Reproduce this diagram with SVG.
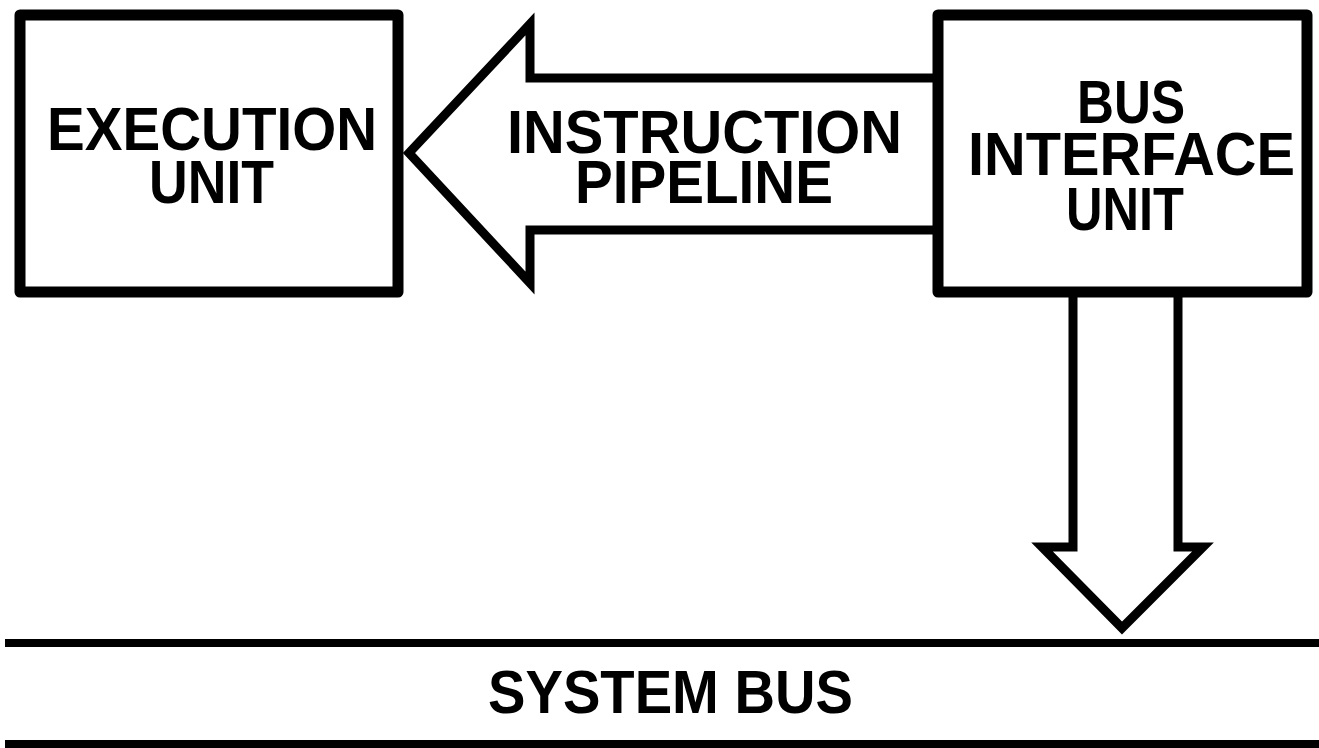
<svg xmlns="http://www.w3.org/2000/svg" width="1319" height="748" viewBox="0 0 1319 748">
<style>
.box{fill:#fff;stroke:#000;stroke-width:11;stroke-linejoin:round}
.arr{fill:#fff;stroke:#000;stroke-width:9;stroke-linejoin:miter}
.bus{stroke:#000;stroke-width:8}
.t{font-family:"Liberation Sans",Arial,sans-serif;font-weight:bold;font-size:62px;fill:#000}
</style>
<rect width="1319" height="748" fill="#fff"/>
<g id="connectors">
<path class="arr" d="M934,78 H530 V24 L409,153 L530,283 V230 H934"/>
<path class="arr" d="M1073,296 V547 H1042 L1122,628 L1203,547 H1178 V296"/>
</g>
<g id="execution-unit">
<rect class="box" x="20" y="15" width="378" height="277"/>
<text class="t" x="47" y="150" textLength="330" lengthAdjust="spacingAndGlyphs">EXECUTION</text>
<text class="t" x="149" y="203" textLength="125" lengthAdjust="spacingAndGlyphs">UNIT</text>
</g>
<g id="instruction-pipeline-label">
<text class="t" x="507" y="153" textLength="395" lengthAdjust="spacingAndGlyphs">INSTRUCTION</text>
<text class="t" x="575" y="203" textLength="258" lengthAdjust="spacingAndGlyphs">PIPELINE</text>
</g>
<g id="bus-interface-unit">
<rect class="box" x="938" y="15" width="369" height="277"/>
<text class="t" x="1077" y="123" textLength="108" lengthAdjust="spacingAndGlyphs">BUS</text>
<text class="t" x="968" y="175" textLength="327" lengthAdjust="spacingAndGlyphs">INTERFACE</text>
<text class="t" x="1066" y="230" textLength="118" lengthAdjust="spacingAndGlyphs">UNIT</text>
</g>
<g id="system-bus">
<line class="bus" x1="5" y1="643" x2="1319" y2="643"/>
<line class="bus" x1="5" y1="744" x2="1319" y2="744"/>
<text class="t" x="488" y="713" textLength="365" lengthAdjust="spacingAndGlyphs">SYSTEM BUS</text>
</g>
</svg>
